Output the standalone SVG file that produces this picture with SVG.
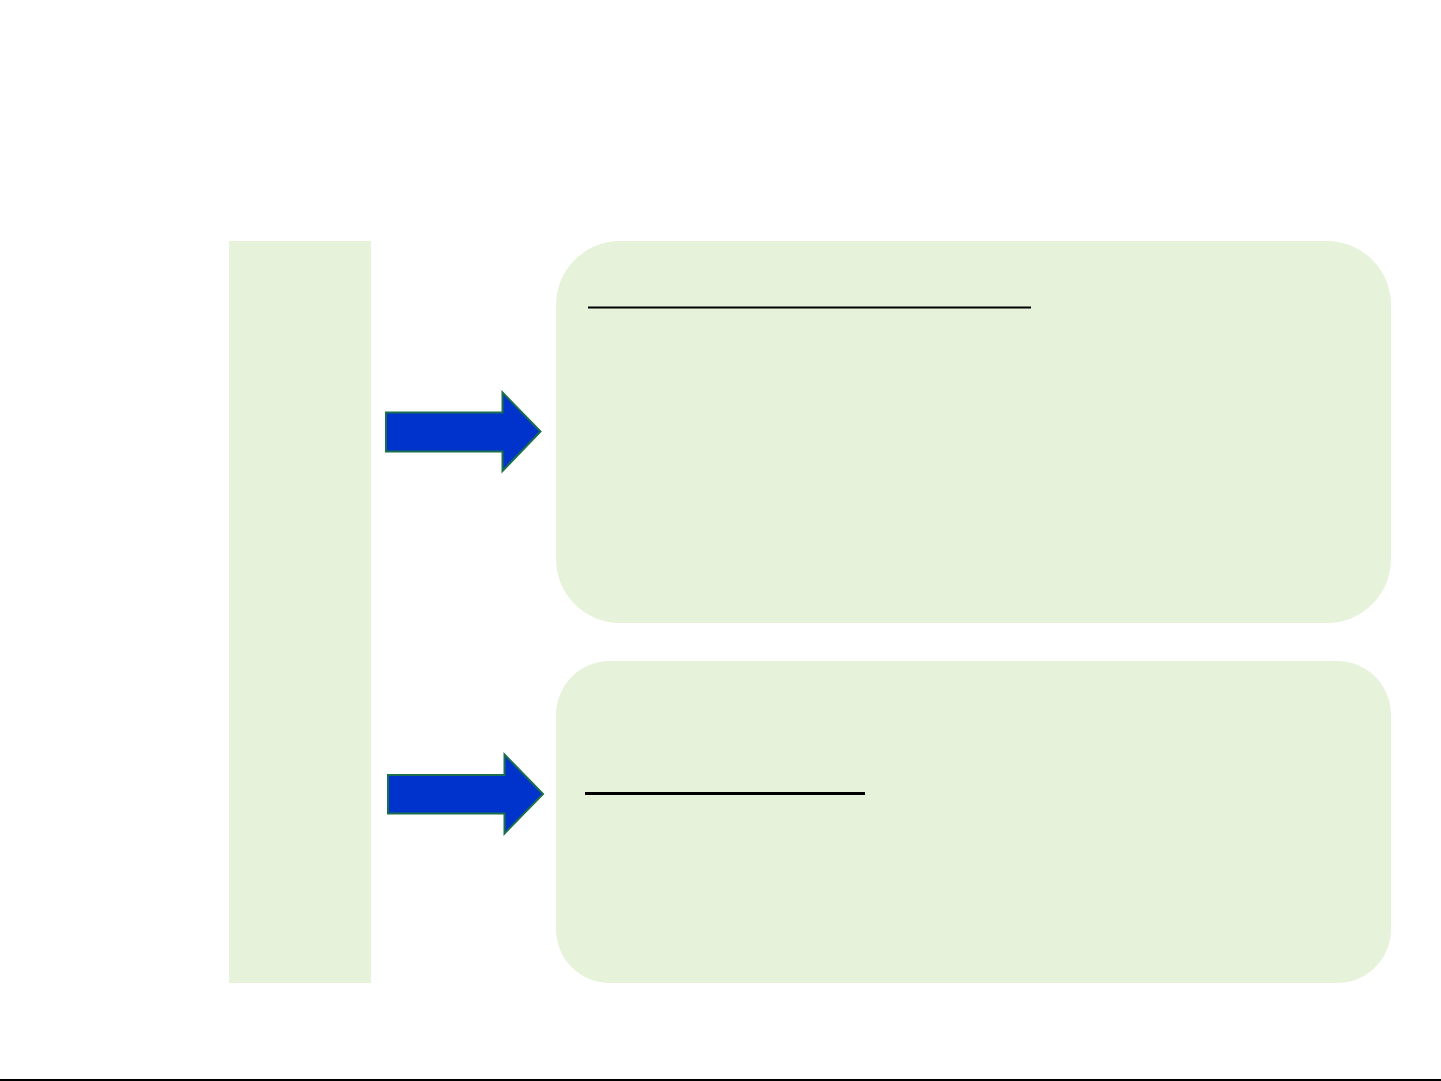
<svg xmlns="http://www.w3.org/2000/svg" width="1441" height="1081" viewBox="0 0 1441 1081">
<style>
.panel{fill:#E7F2DB;stroke:none}
.arrow{fill:#0033CC;stroke:#1B6E4E;stroke-width:2;stroke-linejoin:miter}
.rule{stroke:#000;fill:none}
</style>
<rect x="0" y="0" width="1441" height="1081" fill="#FFFFFF"/>
<g id="left-bar"><rect class="panel" x="229" y="241" width="142" height="742"/></g>
<g id="box-top">
<rect class="panel" x="556" y="241" width="835" height="382" rx="64" ry="64"/>
<line class="rule" x1="588" y1="307.5" x2="1031" y2="307.5" stroke-width="2"/>
</g>
<g id="box-bottom">
<rect class="panel" x="556" y="661" width="835" height="322" rx="54" ry="54"/>
<line class="rule" x1="585" y1="793.5" x2="865" y2="793.5" stroke-width="3"/>
</g>
<g id="connectors">
<polygon class="arrow" points="386,412.5 502.5,412.5 502.5,392.5 540.5,431.5 502.5,471 502.5,451.5 386,451.5"/>
<polygon class="arrow" points="388,775 504.5,775 504.5,754.5 543,794 504.5,833.5 504.5,813.5 388,813.5"/>
</g>
<line x1="0" y1="1080" x2="1441" y2="1080" stroke="#000" stroke-width="2"/>
</svg>
